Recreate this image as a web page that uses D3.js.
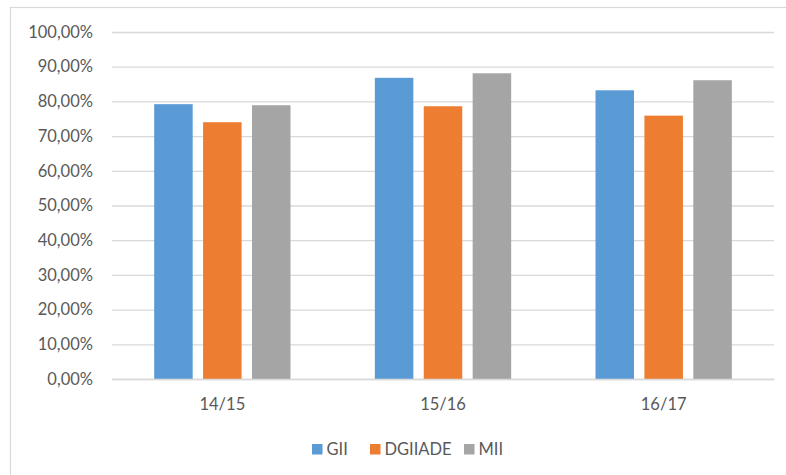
<!DOCTYPE html>
<html>
<head>
<meta charset="utf-8">
<script src="https://cdn.jsdelivr.net/npm/d3@7"></script>
<style>
  body { margin: 0; background: #fff; }
  svg { display: block; font-family: Lato, "Open Sans", sans-serif; }
</style>
</head>
<body>
<svg id="chart"></svg>
<script>
// data
const categories = ['14/15', '15/16', '16/17'];
const seriesNames = ['GII', 'DGIIADE', 'MII'];
const seriesColors = ['#5b9bd5', '#ed7d31', '#a5a5a5'];
const valuesGII = [0.792, 0.868, 0.832];
const valuesDGIIADE = [0.740, 0.786, 0.759];
const valuesMII = [0.789, 0.881, 0.861];
const yTicks = [0, 0.1, 0.2, 0.3, 0.4, 0.5, 0.6, 0.7, 0.8, 0.9, 1.0];

const seriesValues = [valuesGII, valuesDGIIADE, valuesMII];

// layout
const width = 786;
const height = 475;
const margin = {top: 32, right: 12, bottom: 96, left: 112};
const plotW = width - margin.left - margin.right;
const plotH = height - margin.top - margin.bottom;

const svg = d3.select('#chart')
    .attr('width', width)
    .attr('height', height);

// chart frame (runs off the right and bottom edges)
svg.append('rect')
    .attr('x', 10.5)
    .attr('y', 7.5)
    .attr('width', 800)
    .attr('height', 500)
    .attr('fill', 'none')
    .attr('stroke', '#d9d9d9')
    .attr('stroke-width', 1.2);

const g = svg.append('g')
    .attr('transform', 'translate(' + margin.left + ',' + margin.top + ')');

// scales
const x0 = d3.scaleBand()
    .domain(categories)
    .range([0, plotW])
    .padding(0);

// Excel style: gap width 219%, overlap -27%
const barW = x0.bandwidth() / (3 + 2 * 0.27 + 2.19);
const groupW = 3 * barW + 2 * 0.27 * barW;
const x1 = d3.scaleBand()
    .domain(seriesNames)
    .range([(x0.bandwidth() - groupW) / 2, (x0.bandwidth() + groupW) / 2])
    .paddingInner(0.27 / 1.27)
    .paddingOuter(0);

const y = d3.scaleLinear()
    .domain([0, 1])
    .range([plotH, 0]);

const fmt = d => d3.format('.2f')(d * 100).replace('.', ',') + '%';

// gridlines + y labels
const yAxis = g.append('g')
    .call(d3.axisLeft(y).tickValues(yTicks).tickSize(-plotW).tickPadding(19).tickFormat(fmt));
yAxis.select('.domain').remove();
yAxis.selectAll('.tick line')
    .attr('stroke', '#d9d9d9')
    .attr('stroke-width', 1.3);
yAxis.selectAll('.tick text')
    .attr('fill', '#595959')
    .style('font-size', '16.5px')
    .style('font-family', 'Lato, "Open Sans", sans-serif');

// bars
const groups = g.selectAll('.cat')
    .data(categories)
    .enter()
    .append('g')
    .attr('class', 'cat')
    .attr('transform', d => 'translate(' + x0(d) + ',0)');

groups.selectAll('rect')
    .data((d, i) => seriesNames.map((s, j) => ({series: s, value: seriesValues[j][i], color: seriesColors[j]})))
    .enter()
    .append('rect')
    .attr('x', d => x1(d.series))
    .attr('y', d => y(d.value))
    .attr('width', x1.bandwidth())
    .attr('height', d => plotH - y(d.value))
    .attr('fill', d => d.color);

// x axis
const xAxis = g.append('g')
    .attr('transform', 'translate(0,' + plotH + ')')
    .call(d3.axisBottom(x0).tickSize(0).tickPadding(19));
xAxis.select('.domain')
    .attr('stroke', '#d9d9d9')
    .attr('stroke-width', 1.3);
xAxis.selectAll('.tick text')
    .attr('fill', '#595959')
    .style('font-size', '16.5px')
    .style('font-family', 'Lato, "Open Sans", sans-serif');

// legend
const legendY = 449;
const legendX = [312, 370, 464];
const legend = svg.selectAll('.legend')
    .data(seriesNames)
    .enter()
    .append('g')
    .attr('class', 'legend')
    .attr('transform', (d, i) => 'translate(' + legendX[i] + ',' + legendY + ')');
legend.append('rect')
    .attr('x', 0)
    .attr('y', -5)
    .attr('width', 10.5)
    .attr('height', 10.5)
    .attr('fill', (d, i) => seriesColors[i]);
legend.append('text')
    .attr('x', 14.5)
    .attr('y', 0)
    .attr('dy', '0.36em')
    .attr('fill', '#595959')
    .style('font-size', '16.5px')
    .text(d => d);
</script>
</body>
</html>
